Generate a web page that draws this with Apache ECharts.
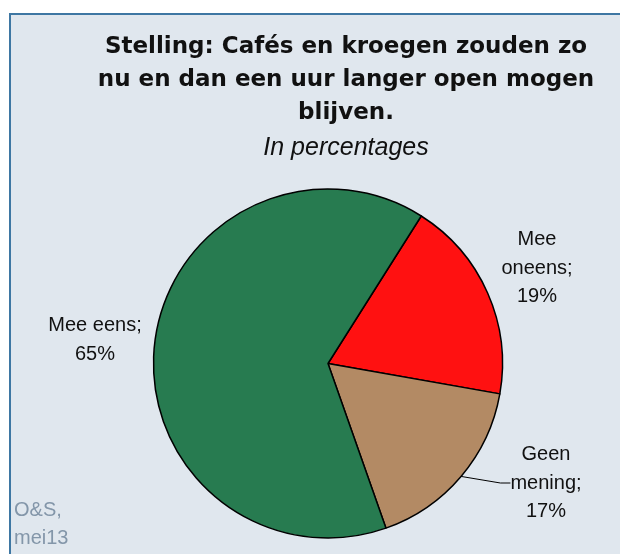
<!DOCTYPE html>
<html>
<head>
<meta charset="utf-8">
<script src="https://cdn.jsdelivr.net/npm/echarts@6/dist/echarts.min.js"></script>
<style>
  html, body { margin: 0; padding: 0; background: #fff; }
  #pie { width: 620px; height: 554px; }
</style>
</head>
<body>
<div id="pie"></div>
<script>
// data, clockwise from the red slice
const categories = ['Mee\noneens', 'Geen\nmening', 'Mee eens'];
const values = [19, 17, 65];
const colors = ['#ff1111', '#b38a64', '#277b50'];

// where the labels sit (centre of the text block)
const labelPos = [[537, 268], [546, 483], [95, 340]];

let myChart = echarts.init(document.getElementById('pie'));

myChart.setOption({
    backgroundColor: '#ffffff',
    animation: false,
    graphic: [
        {
            type: 'rect', z: -10, silent: true,
            shape: { x: 10, y: 14, width: 700, height: 700 },
            style: { fill: '#e0e7ee', stroke: '#3e77a3', lineWidth: 2 }
        },
        {
            type: 'text', x: 346, y: 31,
            style: {
                text: 'Stelling: Cafés en kroegen zouden zo\nnu en dan een uur langer open mogen\nblijven.',
                font: 'bold 23px "DejaVu Sans"',
                fill: '#111', align: 'center', verticalAlign: 'top', lineHeight: 33
            }
        },
        {
            type: 'text', x: 346, y: 148,
            style: {
                text: 'In percentages',
                font: 'italic 25px "Liberation Sans"',
                fill: '#111', align: 'center', verticalAlign: 'middle'
            }
        },
        {
            type: 'text', x: 14, y: 496,
            style: {
                text: 'O&S,\nmei13',
                font: '20px "Liberation Sans"',
                fill: '#8396a9', align: 'left', verticalAlign: 'top', lineHeight: 28
            }
        }
    ],
    series: [{
        name: 'Stelling',
        type: 'pie',
        center: [328, 363.5],
        radius: 174.5,
        startAngle: 57.7,
        clockwise: true,
        itemStyle: { borderColor: '#000', borderWidth: 1.5 },
        label: {
            show: true,
            formatter: p => p.name + ';\n' + p.value + '%',
            fontFamily: 'Liberation Sans',
            fontSize: 20,
            lineHeight: 28.5,
            color: '#111',
            align: 'center'
        },
        labelLine: { show: true, length: 10, length2: 10, lineStyle: { color: '#000', width: 1 } },
        labelLayout: function (params) {
            const pos = labelPos[params.dataIndex];
            return {
                x: pos[0],
                y: pos[1],
                align: 'center',
                verticalAlign: 'middle'
            };
        },
        data: categories.map((name, i) => {
            return {
                value: values[i],
                name: name,
                itemStyle: { color: colors[i] },
                labelLine: { show: i === 1 }
            }
        })
    }]
});
</script>
</body>
</html>
